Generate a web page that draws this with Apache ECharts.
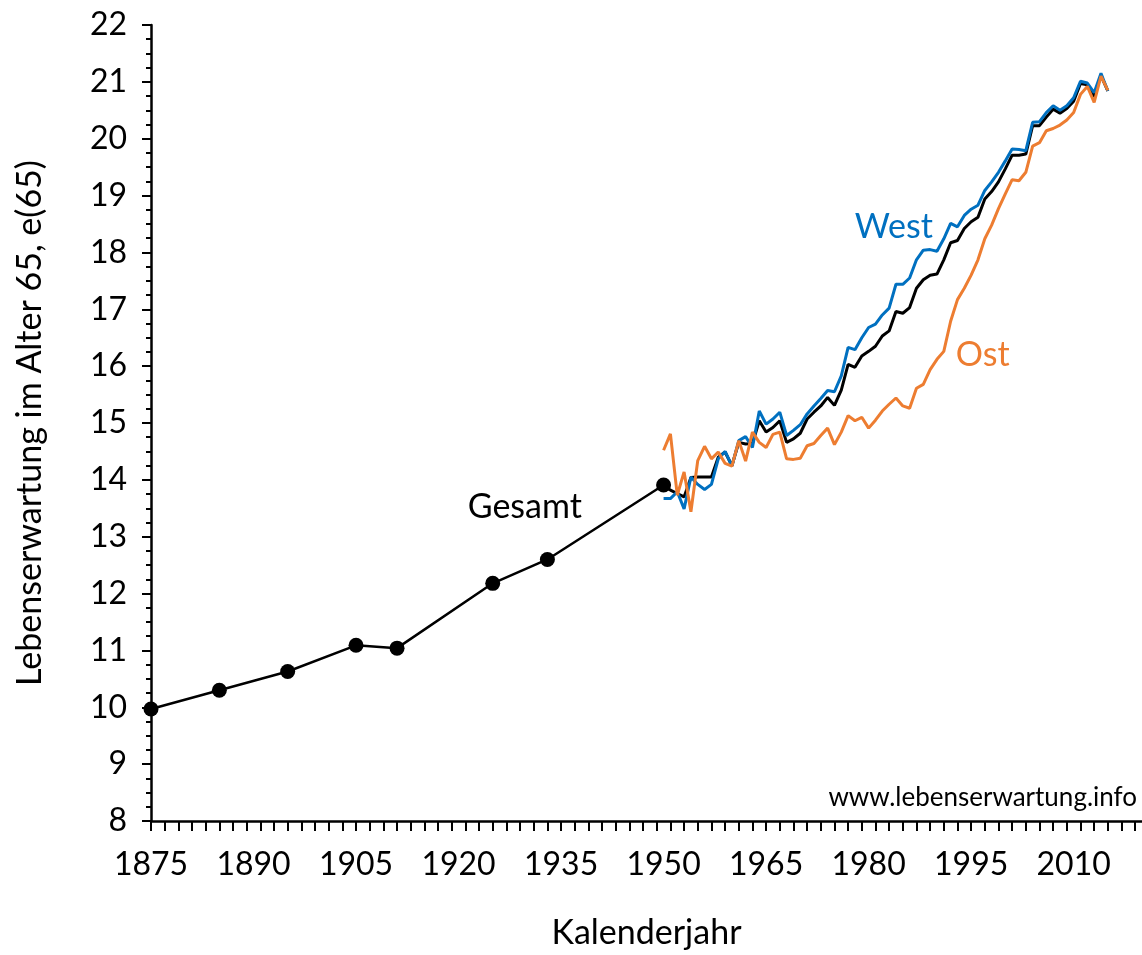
<!DOCTYPE html>
<html>
<head>
<meta charset="utf-8">
<script src="https://cdn.jsdelivr.net/npm/echarts@6/dist/echarts.min.js"></script>
<style>
  html, body { margin: 0; padding: 0; background: #ffffff; }
  #chart { width: 1142px; height: 955px; }
</style>
</head>
<body>
<div id="chart"></div>
<script>
// Gesamt: historical life tables (dots)
const historicYears = [1875, 1885, 1895, 1905, 1911, 1925, 1933, 1950];
const historicValues = [9.97, 10.30, 10.63, 11.09, 11.04, 12.18, 12.60, 13.91];

// annual values 1950-2015
const annualYears = [];
for (let y = 1950; y <= 2015; y++) annualYears.push(y);

const gesamtValues = [
  13.91, 13.82, 13.76, 13.70, 14.04, 14.05, 14.05, 14.05, 14.40, 14.49,
  14.25, 14.66, 14.63, 14.64, 15.04, 14.84, 14.92, 15.04, 14.66, 14.72,
  14.82, 15.07, 15.19, 15.30, 15.45, 15.31, 15.58, 16.03, 15.98, 16.18,
  16.26, 16.35, 16.53, 16.62, 16.96, 16.93, 17.03, 17.37, 17.52, 17.60,
  17.62, 17.87, 18.17, 18.21, 18.42, 18.54, 18.62, 18.94, 19.07, 19.24,
  19.47, 19.71, 19.71, 19.73, 20.23, 20.23, 20.38, 20.52, 20.45, 20.53,
  20.66, 20.97, 20.95, 20.74, 21.11, 20.84
];
const westValues = [
  13.67, 13.67, 13.79, 13.49, 14.05, 13.92, 13.83, 13.92, 14.37, 14.50,
  14.24, 14.69, 14.76, 14.57, 15.21, 14.98, 15.07, 15.19, 14.78, 14.87,
  14.97, 15.16, 15.30, 15.43, 15.57, 15.55, 15.83, 16.33, 16.29, 16.50,
  16.68, 16.74, 16.90, 17.02, 17.44, 17.44, 17.55, 17.87, 18.04, 18.05,
  18.02, 18.24, 18.51, 18.45, 18.65, 18.76, 18.83, 19.09, 19.24, 19.41,
  19.61, 19.82, 19.81, 19.79, 20.29, 20.30, 20.46, 20.58, 20.50, 20.58,
  20.72, 21.01, 20.98, 20.81, 21.15, 20.84
];
const ostValues = [
  14.52, 14.81, 13.73, 14.14, 13.44, 14.34, 14.59, 14.37, 14.49, 14.29,
  14.24, 14.69, 14.33, 14.84, 14.66, 14.57, 14.80, 14.84, 14.37, 14.36,
  14.38, 14.60, 14.64, 14.78, 14.91, 14.62, 14.84, 15.13, 15.04, 15.10,
  14.91, 15.05, 15.21, 15.33, 15.44, 15.30, 15.26, 15.61, 15.68, 15.94,
  16.12, 16.26, 16.79, 17.17, 17.37, 17.60, 17.87, 18.24, 18.48, 18.77,
  19.03, 19.28, 19.26, 19.41, 19.87, 19.93, 20.14, 20.18, 20.24, 20.33,
  20.46, 20.78, 20.92, 20.64, 21.10, 20.85
];

const xLabelValues = [1875, 1890, 1905, 1920, 1935, 1950, 1965, 1980, 1995, 2010];
const xTickValues = [];
for (let y = 1875; y <= 2019; y += 2) xTickValues.push(y);

const FONT = 'Lato, "Open Sans", sans-serif';
const BLUE = '#0070C0';
const ORANGE = '#ED7D31';

const pairs = (xs, ys) => xs.map((x, i) => [x, ys[i]]);

const chart = echarts.init(document.getElementById('chart'), null, { renderer: 'canvas' });

chart.setOption({
  animation: false,
  backgroundColor: '#ffffff',
  grid: { left: 151, top: 25, width: 991.4, height: 801 },
  xAxis: {
    type: 'value',
    min: 1875,
    max: 2020,
    interval: 15,
    name: 'Kalenderjahr',
    nameLocation: 'middle',
    nameGap: 95,
    nameTextStyle: { fontFamily: FONT, fontSize: 34, color: '#000' },
    axisLine: { lineStyle: { color: '#000', width: 2.5 } },
    axisTick: { customValues: xTickValues, length: 10, lineStyle: { color: '#000', width: 2 } },
    axisLabel: {
      customValues: xLabelValues,
      formatter: v => String(v),
      fontFamily: FONT, fontSize: 32, color: '#000', margin: 28
    },
    splitLine: { show: false }
  },
  yAxis: {
    type: 'value',
    min: 8,
    max: 22,
    interval: 1,
    name: 'Lebenserwartung im Alter 65, e(65)',
    nameLocation: 'middle',
    nameGap: 104,
    nameTextStyle: { fontFamily: FONT, fontSize: 34, color: '#000' },
    axisLine: { show: true, lineStyle: { color: '#000', width: 2.5 } },
    axisTick: { show: true, length: 9, lineStyle: { color: '#000', width: 2 } },
    minorTick: { show: true, splitNumber: 4, length: 5, lineStyle: { color: '#000', width: 2 } },
    axisLabel: { fontFamily: FONT, fontSize: 32, color: '#000', margin: 24 },
    splitLine: { show: false }
  },
  series: [
    {
      name: 'Gesamt', type: 'line', data: pairs(annualYears, gesamtValues),
      showSymbol: false, lineStyle: { color: '#000', width: 3 }, z: 3
    },
    {
      name: 'West', type: 'line', data: pairs(annualYears, westValues),
      showSymbol: false, lineStyle: { color: BLUE, width: 3 }, z: 4
    },
    {
      name: 'Ost', type: 'line', data: pairs(annualYears, ostValues),
      showSymbol: false, lineStyle: { color: ORANGE, width: 3 }, z: 5
    },
    {
      name: 'Gesamt (Sterbetafeln)', type: 'line', data: pairs(historicYears, historicValues),
      symbol: 'circle', symbolSize: 15,
      itemStyle: { color: '#000' }, lineStyle: { color: '#000', width: 2.5 }, z: 6
    }
  ]
});

// text annotations anchored in data coordinates
const notes = [
  { text: 'Gesamt', at: [1929.7, 13.52], color: '#000' },
  { text: 'West', at: [1983.7, 18.45], color: BLUE },
  { text: 'Ost', at: [1996.7, 16.2], color: ORANGE }
];
chart.setOption({
  graphic: notes.map(n => {
    const p = chart.convertToPixel({ gridIndex: 0 }, n.at);
    return {
      type: 'text', x: p[0], y: p[1], z: 10,
      style: { text: n.text, fill: n.color, font: '34px ' + FONT, align: 'center', verticalAlign: 'middle' }
    };
  }).concat([{
    type: 'text', right: 5, top: 785, z: 10,
    style: { text: 'www.lebenserwartung.info', fill: '#000', font: '26px ' + FONT }
  }])
});
</script>
</body>
</html>
